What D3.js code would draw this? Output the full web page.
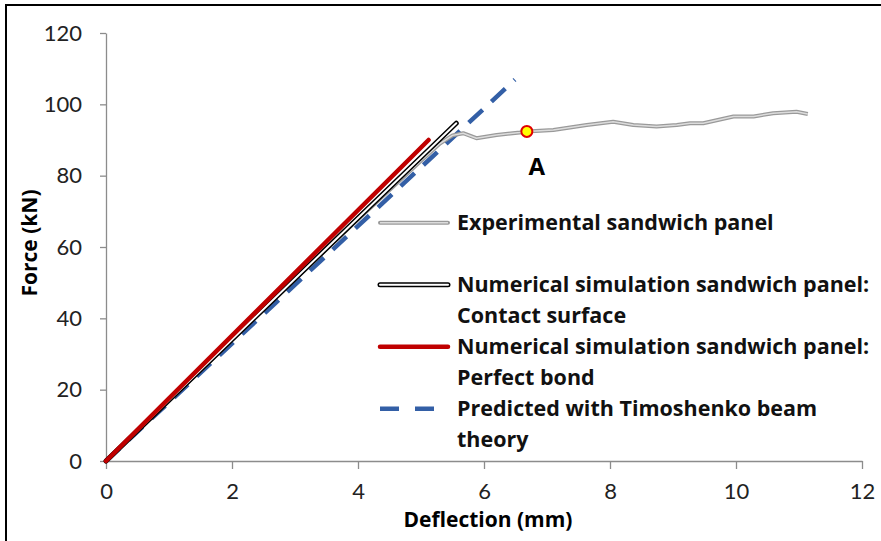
<!DOCTYPE html>
<html>
<head>
<meta charset="utf-8">
<script src="https://cdn.jsdelivr.net/npm/d3@7"></script>
<style>
  body { margin: 0; background: #fff; }
  text { font-family: "Open Sans", Lato, sans-serif; }
</style>
</head>
<body>
<div id="chart"></div>
<script>
// Values
const expDeflection = [0, 0.5, 1, 2, 3, 4, 4.5, 5, 5.3, 5.5, 5.67, 5.88, 6.2, 6.57, 6.68, 7.1, 7.63, 8.05, 8.37, 8.74, 9.06, 9.27, 9.48, 9.96, 10.28, 10.59, 10.96, 11.14];
const expForce      = [0, 8.4, 17.0, 34.0, 51.0, 67.8, 76.0, 84.2, 89.0, 91.3, 91.9, 90.5, 91.4, 92.1, 92.4, 92.8, 94.2, 95.1, 94.2, 93.8, 94.2, 94.7, 94.7, 96.6, 96.6, 97.5, 97.9, 97.3];

const contactDeflection = [0, 5.56];
const contactForce      = [0, 94.7];

const bondDeflection = [0, 5.12];
const bondForce      = [0, 90.0];

const timoDeflection = [0, 6.49];
const timoForce      = [0, 106.9];

const pointA = {x: 6.68, y: 92.4, label: "A"};

const xTicks = [0, 2, 4, 6, 8, 10, 12];
const yTicks = [0, 20, 40, 60, 80, 100, 120];

const legendLabels = [
    ["Experimental sandwich panel"],
    ["Numerical simulation sandwich panel:", "Contact surface"],
    ["Numerical simulation sandwich panel:", "Perfect bond"],
    ["Predicted with Timoshenko beam", "theory"]
];

const width = 881, height = 541;
const margin = {top: 33, right: 19, bottom: 80, left: 106};

const svg = d3.select("#chart")
    .append("svg")
    .attr("width", width)
    .attr("height", height);

// outer frame (only left and top edges visible)
svg.append("path")
    .attr("d", "M6,541 V5 H881")
    .attr("fill", "none")
    .attr("stroke", "#000")
    .attr("stroke-width", 2);

const x = d3.scaleLinear().domain([0, 12]).range([margin.left, width - margin.right]);
const y = d3.scaleLinear().domain([0, 120]).range([height - margin.bottom, margin.top]);

// X axis
const xAxis = svg.append("g")
    .attr("transform", `translate(0,${y(0)})`)
    .call(d3.axisBottom(x).tickValues(xTicks).tickSize(8).tickSizeOuter(0).tickPadding(14));

// Y axis
const yAxis = svg.append("g")
    .attr("transform", `translate(${x(0)},0)`)
    .call(d3.axisLeft(y).tickValues(yTicks).tickSize(6).tickSizeOuter(0).tickPadding(18));

[xAxis, yAxis].forEach(g => {
    g.select(".domain").attr("stroke", "#8c8c8c").attr("stroke-width", 1.3);
    g.selectAll(".tick line").attr("stroke", "#8c8c8c").attr("stroke-width", 1.3);
    g.selectAll(".tick text")
        .attr("fill", "#222")
        .style("font-family", "Lato, sans-serif")
        .style("font-size", "22px");
});

// Axis titles
svg.append("text")
    .attr("x", 488)
    .attr("y", 527)
    .attr("text-anchor", "middle")
    .style("font-size", "21px")
    .style("font-weight", "bold")
    .text("Deflection (mm)");

svg.append("text")
    .attr("transform", `translate(37,${243}) rotate(-90)`)
    .attr("text-anchor", "middle")
    .style("font-size", "21px")
    .style("font-weight", "bold")
    .text("Force (kN)");

const line = d3.line()
    .x(d => x(d[0]))
    .y(d => y(d[1]));

const zip = (a, b) => a.map((v, i) => [v, b[i]]);

// Predicted with Timoshenko beam theory
svg.append("path")
    .datum(zip(timoDeflection, timoForce))
    .attr("fill", "none")
    .attr("stroke", "#335fa6")
    .attr("stroke-width", 4.5)
    .attr("stroke-dasharray", "19,12")
    .attr("d", line);

// Experimental (grey double line)
const expData = zip(expDeflection, expForce);
svg.append("path")
    .datum(expData)
    .attr("fill", "none")
    .attr("stroke", "#9a9a9a")
    .attr("stroke-width", 4)
    .attr("stroke-linejoin", "round")
    .attr("d", line);
svg.append("path")
    .datum(expData)
    .attr("fill", "none")
    .attr("stroke", "#dcdcdc")
    .attr("stroke-width", 1.5)
    .attr("stroke-linejoin", "round")
    .attr("d", line);

// Contact surface (black double line)
const contactData = zip(contactDeflection, contactForce);
svg.append("path")
    .datum(contactData)
    .attr("fill", "none")
    .attr("stroke", "#000")
    .attr("stroke-width", 5)
    .attr("stroke-linecap", "round")
    .attr("d", line);
svg.append("path")
    .datum(contactData)
    .attr("fill", "none")
    .attr("stroke", "#fff")
    .attr("stroke-width", 2)
    .attr("stroke-linecap", "round")
    .attr("d", line);

// Perfect bond (red)
svg.append("path")
    .datum(zip(bondDeflection, bondForce))
    .attr("fill", "none")
    .attr("stroke", "#c00000")
    .attr("stroke-width", 4.5)
    .attr("stroke-linecap", "round")
    .attr("d", line);

// Point A
svg.append("circle")
    .attr("cx", x(pointA.x))
    .attr("cy", y(pointA.y))
    .attr("r", 5.5)
    .attr("fill", "#ffff00")
    .attr("stroke", "#e00000")
    .attr("stroke-width", 2);

svg.append("text")
    .attr("x", x(pointA.x) + 10)
    .attr("y", y(pointA.y) + 44)
    .attr("text-anchor", "middle")
    .style("font-size", "24px")
    .style("font-weight", "bold")
    .text(pointA.label);

// Legend
const legendX = 380, legendLen = 68, textX = 457, rowH = 31, legendTop = 222.7;
const rows = [0, 2, 4, 6];
const legend = svg.append("g");

const swatchY = i => legendTop + rows[i] * rowH;

// experimental swatch
legend.append("line").attr("x1", legendX).attr("x2", legendX + legendLen)
    .attr("y1", swatchY(0)).attr("y2", swatchY(0))
    .attr("stroke", "#9a9a9a").attr("stroke-width", 4).attr("stroke-linecap", "round");
legend.append("line").attr("x1", legendX).attr("x2", legendX + legendLen)
    .attr("y1", swatchY(0)).attr("y2", swatchY(0))
    .attr("stroke", "#dcdcdc").attr("stroke-width", 1.5);

// contact swatch
legend.append("line").attr("x1", legendX).attr("x2", legendX + legendLen)
    .attr("y1", swatchY(1)).attr("y2", swatchY(1))
    .attr("stroke", "#000").attr("stroke-width", 5).attr("stroke-linecap", "round");
legend.append("line").attr("x1", legendX).attr("x2", legendX + legendLen)
    .attr("y1", swatchY(1)).attr("y2", swatchY(1))
    .attr("stroke", "#fff").attr("stroke-width", 2).attr("stroke-linecap", "round");

// bond swatch
legend.append("line").attr("x1", legendX).attr("x2", legendX + legendLen)
    .attr("y1", swatchY(2)).attr("y2", swatchY(2))
    .attr("stroke", "#c00000").attr("stroke-width", 4.5).attr("stroke-linecap", "round");

// timoshenko swatch
legend.append("line").attr("x1", legendX).attr("x2", legendX + legendLen)
    .attr("y1", swatchY(3)).attr("y2", swatchY(3))
    .attr("stroke", "#335fa6").attr("stroke-width", 4.5)
    .attr("stroke-dasharray", "19,16");

legendLabels.forEach((lines, i) => {
    lines.forEach((t, j) => {
        legend.append("text")
            .attr("x", textX)
            .attr("y", swatchY(i) + j * rowH + 7.5)
            .style("font-size", "21.5px")
            .style("font-weight", "bold")
            .attr("fill", "#111")
            .text(t);
    });
});
</script>
</body>
</html>
